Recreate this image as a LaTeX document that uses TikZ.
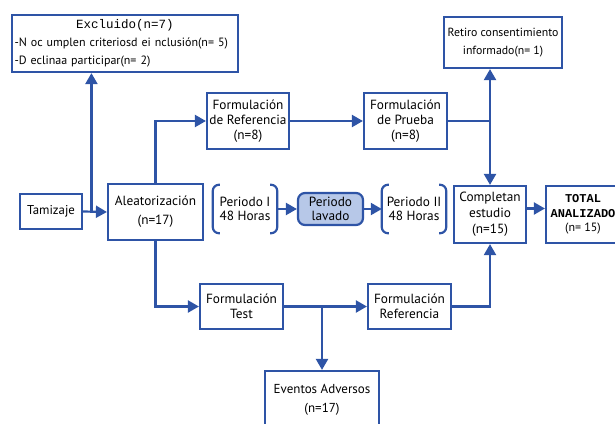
\documentclass[tikz,border=0pt]{standalone}
\usepackage{fontspec}
\setmainfont{PT Sans}
\newfontfamily\monofont{Liberation Mono}
\usetikzlibrary{arrows.meta,calc}
\definecolor{bl}{HTML}{2E54A6}
\definecolor{lb}{HTML}{B7C8E8}
\begin{document}
\begin{tikzpicture}[x=1pt,y=-1pt,
  box/.style={draw=bl, line width=2.2pt, align=center, inner sep=0pt, text=black,
              font=\fontsize{13.3}{15}\selectfont},
  plain/.style={align=center, inner sep=0pt, text=black, font=\fontsize{13.3}{14}\selectfont},
  arr/.style={draw=bl, line width=2.2pt, -{Triangle[length=11pt,width=12pt]}},
  ln/.style={draw=bl, line width=2.2pt},
  brk/.style={draw=bl, line width=2.2pt, rounded corners=6pt}]
\useasboundingbox (0,0) rectangle (615,423);
\clip (0,0) rectangle (615,423);

% nodes
\node[box, minimum width=226pt, minimum height=57pt, text width=221pt, align=left,
      font=\fontsize{12}{18}\selectfont] (exc) at (125,43.5)
  {{\centering\fontsize{12.5}{18}\monofont Excluido(n=7)\par}-N oc umplen criteriosd ei nclusión(n= 5)\\-D eclinaa participar(n= 2)};
\node[box, minimum width=118pt, minimum height=51pt, font=\fontsize{11.8}{18}\selectfont] (ret) at (503,42.5)
  {Retiro consentimiento\\informado(n= 1)};
\node[box, minimum width=62pt, minimum height=35pt, font=\fontsize{12.8}{15}\selectfont] (tam) at (51,211.5) {Tamizaje};
\node[box, minimum width=95pt, minimum height=56pt, font=\fontsize{13.3}{19}\selectfont] (ale) at (155.5,212) {Aleatorización\\(n=17)};
\node[box, minimum width=82pt, minimum height=56pt] (fref) at (248,121) {Formulación\\de Referencia\\(n=8)};
\node[box, minimum width=83pt, minimum height=56pt] (fprb) at (405.5,121) {Formulación\\de Prueba\\(n=8)};
\node[plain, minimum width=64pt, minimum height=48pt] (per1) at (245,209) {Periodo I\\48 Horas};
\node[box, fill=lb, rounded corners=7pt, minimum width=65pt, minimum height=32pt, font=\fontsize{13.3}{13.5}\selectfont] (lav) at (330.5,209) {Periodo\\lavado};
\node[plain, minimum width=64pt, minimum height=48pt] (per2) at (414,209) {Periodo II\\48 Horas};
\node[box, minimum width=72pt, minimum height=57pt, font=\fontsize{13.3}{16}\selectfont] (comp) at (490,214.5) {Completan\\estudio\\(n=15)};
\node[box, minimum width=74pt, minimum height=57pt, font=\fontsize{12}{14.5}\selectfont] (tot) at (583,214.5)
  {{\monofont\bfseries TOTAL}\\{\monofont\bfseries ANALIZADO}\\(n= 15)};
\node[box, minimum width=83pt, minimum height=45pt] (ftest) at (241.5,306.5) {Formulación\\Test};
\node[box, minimum width=83pt, minimum height=45pt] (frefer) at (409.5,306.5) {Formulación\\Referencia};
\node[box, minimum width=114pt, minimum height=58pt, font=\fontsize{13}{19}\selectfont] (eve) at (322,400) {Eventos Adversos\\(n=17)};

% brackets
\foreach \n in {per1,per2}{
  \draw[brk] ([xshift=7pt]\n.north west) -- (\n.north west) -- (\n.south west) -- ([xshift=7pt]\n.south west);
  \draw[brk] ([xshift=-7pt]\n.north east) -- (\n.north east) -- (\n.south east) -- ([xshift=-7pt]\n.south east);
}

% connectors
\coordinate (j1) at ($(tam.east)!0.35!(ale.west)$);
\draw[arr] (tam.east) -- (ale.west);
\draw[arr] (j1) -- (j1 |- exc.south);
\draw[arr] (ale.north) |- (fref.west);
\draw[arr] (fref) -- (fprb);
\coordinate (j2) at (comp.north |- fprb.east);
\draw[ln] (fprb.east) -- (j2);
\draw[arr] (j2) -- (j2 |- ret.south);
\draw[arr] (j2) -- (comp.north);
\draw[arr] (ale.south) |- (ftest.west);
\draw[arr] (ftest) -- (frefer);
\coordinate (j3) at (eve.north |- ftest.east);
\draw[arr] (j3) -- (eve.north);
\draw[arr] (frefer.east) -| (comp.south);
\draw[arr] (per1) -- (lav);
\draw[arr] (lav) -- (per2);
\draw[arr] ([yshift=6pt]comp.east) -- ([yshift=6pt]tot.west);
\end{tikzpicture}
\end{document}
